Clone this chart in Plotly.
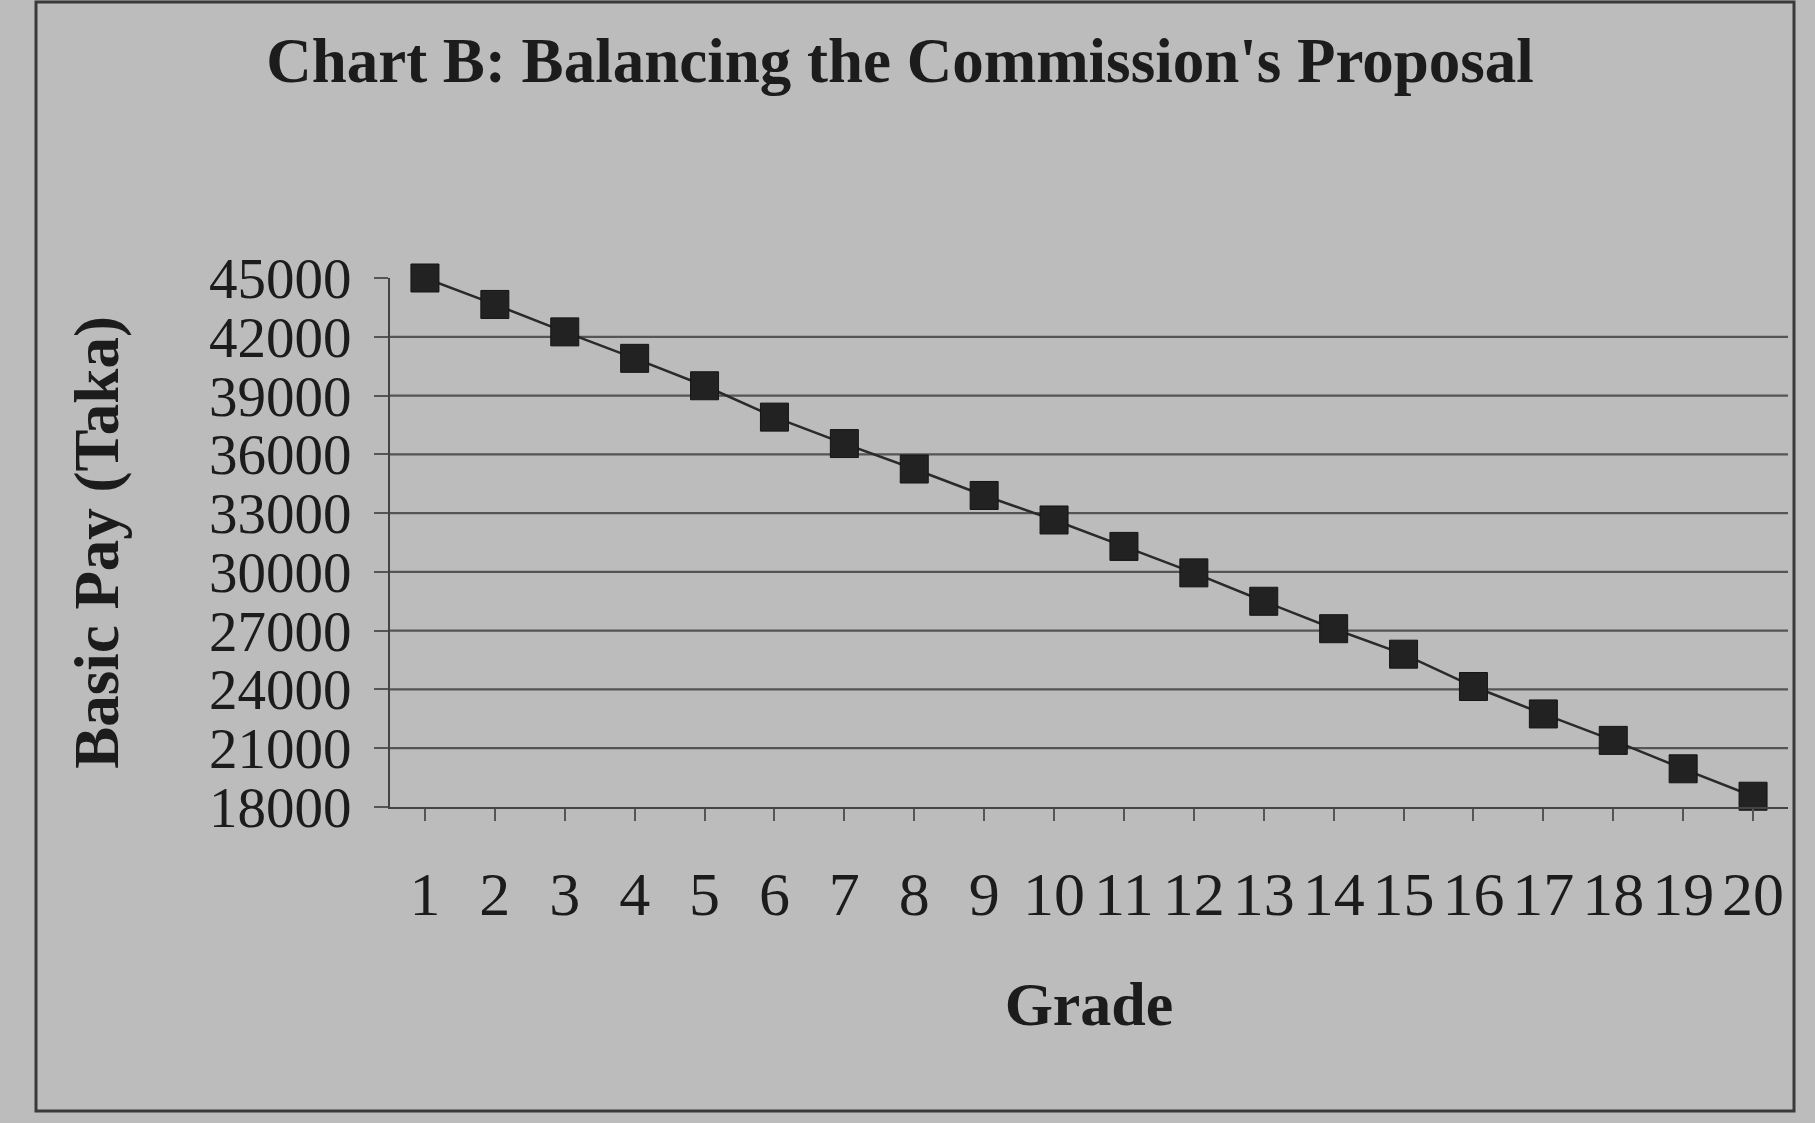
import plotly.graph_objects as go

# ---- data ----
grades = list(range(1, 21))
grade_labels = [str(g) for g in grades]
basic_pay = [45000, 43650, 42250, 40900, 39500, 37900, 36550, 35250, 33900, 32650,
             31300, 29950, 28500, 27100, 25800, 24150, 22750, 21400, 19950, 18550]
y_ticks = [18000, 21000, 24000, 27000, 30000, 33000, 36000, 39000, 42000, 45000]

title_text = "Chart B: Balancing the Commission's Proposal"
x_title = "Grade"
y_title = "Basic Pay (Taka)"

# ---- layout constants (pixels) ----
W, H = 1815, 1123
L, R, T, B = 390, 27, 278, 316
PW, PH = W - L - R, H - T - B
BG = "#bcbcbc"
INK = "#1c1c1c"
GRID = "#555555"
SERIF = "Liberation Serif"


def px_to_paper_x(px):
    return (px - L) / PW


def px_to_paper_y(py):
    return (H - B - py) / PH


fig = go.Figure()
fig.add_trace(go.Scatter(
    x=grades, y=basic_pay, mode="lines+markers",
    line=dict(color="#2a2a2a", width=2.5),
    marker=dict(symbol="square", size=28, color="#222222",
                line=dict(color="#151515", width=1)),
    showlegend=False, cliponaxis=False,
))

shapes = []
# horizontal gridlines (none at the top edge, the bottom one is the axis line)
for v in y_ticks:
    if min(y_ticks) < v < max(y_ticks):
        shapes.append(dict(type="line", xref="paper", yref="y", x0=0, x1=1,
                           y0=v, y1=v, line=dict(color=GRID, width=2.2), layer="below"))
# outer frame of the chart
shapes.append(dict(type="rect", xref="paper", yref="paper",
                   x0=px_to_paper_x(36), x1=px_to_paper_x(1794),
                   y0=px_to_paper_y(1111), y1=px_to_paper_y(2),
                   line=dict(color="#3a3a3a", width=3), fillcolor="rgba(0,0,0,0)",
                   layer="below"))

fig.update_layout(
    width=W, height=H,
    margin=dict(l=L, r=R, t=T, b=B, autoexpand=False),
    paper_bgcolor=BG, plot_bgcolor=BG,
    font=dict(family=SERIF, color=INK),
    title=dict(text=title_text, xref="container", yref="container",
               x=900 / W, y=1 - 60 / H, xanchor="center", yanchor="middle",
               font=dict(family=SERIF, size=63, weight=700, color=INK)),
    shapes=shapes,
    xaxis=dict(
        range=[0.5, 20.5], tickmode="array", tickvals=grades, ticktext=grade_labels,
        showgrid=False, zeroline=False,
        showline=True, linecolor="#444444", linewidth=2,
        ticks="outside", ticklen=12, tickwidth=2, tickcolor="#555555",
        tickfont=dict(family=SERIF, size=62, color=INK),
        ticklabelstandoff=20,
        title=dict(text=x_title, standoff=54,
                   font=dict(family=SERIF, size=62, weight=700, color=INK)),
    ),
    yaxis=dict(
        range=[18000, 45000], tickmode="array", tickvals=y_ticks,
        ticktext=[str(v) for v in y_ticks],
        showgrid=False, zeroline=False,
        showline=True, linecolor="#444444", linewidth=2,
        ticks="outside", ticklen=14, tickwidth=2, tickcolor="#555555",
        tickfont=dict(family=SERIF, size=57, color=INK),
        ticklabelstandoff=11,
        title=dict(text=y_title, standoff=70,
                   font=dict(family=SERIF, size=63, weight=700, color=INK)),
    ),
)

fig.write_html("out.html",
               config={"displayModeBar": False},
               post_script="document.body.style.margin='0';"
                           "document.body.style.background='%s';" % BG)
